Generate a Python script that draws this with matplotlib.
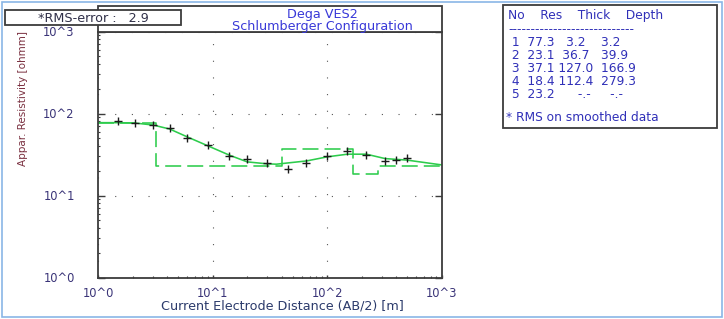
import matplotlib
matplotlib.use("Agg")
import matplotlib.pyplot as plt
import numpy as np
from matplotlib.patches import Rectangle
from matplotlib.ticker import FixedLocator, FixedFormatter, LogLocator, NullFormatter

plt.rcParams["font.family"] = ["DejaVu Sans"]

W, H = 724, 319

# Measured apparent resistivity (crosses)
ab_obs = [1.5, 2.1, 3.0, 4.2, 6.0, 9.0, 14, 20, 30, 45, 65, 100, 150, 220, 320, 400, 500]
rho_obs = [81.1, 76.0, 71.8, 66.1, 50.8, 41.0, 30.1, 27.9, 25.0, 21.1, 25.0, 30.4, 34.7, 31.3, 26.2, 27.2, 28.5]

# Smoothed model curve (solid green)
ab_fit = [1.0, 1.5, 2.1, 3.0, 4.2, 6.0, 9.0, 14, 20, 30, 36, 66, 100, 150, 220, 320, 500, 1000]
rho_fit = [77.3, 77.3, 76.5, 72.4, 64.7, 51.8, 40.5, 31.0, 25.7, 24.3, 24.1, 26.4, 29.6, 31.9, 31.9, 28.2, 27.0, 23.6]

# Layer model (dashed green steps and the table)
layer_no = [1, 2, 3, 4, 5]
layer_res = [77.3, 23.1, 37.1, 18.4, 23.2]
layer_thick = [3.2, 36.7, 127.0, 112.4]
layer_depth = [3.2, 39.9, 166.9, 279.3]

rms_error = 2.9
tick_vals = [1, 10, 100, 1000]
tick_labels = ["10^0", "10^1", "10^2", "10^3"]


# pixel helpers (origin top-left)
def fx(px):
    return px / W


def fy(py):
    return 1 - py / H


green = "#2dcc4c"
frame = "#3c3c3c"
blue = "#3838d8"

fig = plt.figure(figsize=(W / 100, H / 100), dpi=100)

# plot area
ax_l, ax_r, ax_t, ax_b = 98.3, 441.7, 31.5, 277.5
ax = fig.add_axes([fx(ax_l), fy(ax_b), fx(ax_r - ax_l), (ax_b - ax_t) / H])
ax.set_xscale("log")
ax.set_yscale("log")
ax.set_xlim(1, 1000)
ax.set_ylim(1, 1000)

# layer model as steps
edges = [1] + layer_depth + [1000]
step_x = np.repeat(edges, 2)[1:-1]
step_y = np.repeat(layer_res, 2)
ax.plot(step_x, step_y, color=green, lw=1.15, dashes=(10, 3.8))

# smoothed curve and data
ax.plot(ab_fit, rho_fit, color=green, lw=1.15)
ax.plot(ab_obs, rho_obs, "+", color="#1a1a1a", ms=6, mew=1.0)

# grid only at the decades
ax.grid(which="major", linestyle=(0, (1, 14)), color="#555555", lw=0.8)

ax.xaxis.set_major_locator(FixedLocator(tick_vals))
ax.xaxis.set_major_formatter(FixedFormatter(tick_labels))
ax.yaxis.set_major_locator(FixedLocator(tick_vals))
ax.yaxis.set_major_formatter(FixedFormatter(tick_labels))
ax.xaxis.set_minor_locator(LogLocator(base=10, subs=np.arange(2, 10)))
ax.yaxis.set_minor_locator(LogLocator(base=10, subs=np.arange(2, 10)))
ax.xaxis.set_minor_formatter(NullFormatter())
ax.yaxis.set_minor_formatter(NullFormatter())

tick_col = "#3a3478"
ax.tick_params(axis="y", which="major", direction="in", length=5, width=1.0,
               left=True, right=True, color=frame, pad=17, labelsize=8.3, labelcolor=tick_col)
ax.tick_params(axis="y", which="minor", direction="in", length=1.5, width=0.8,
               left=True, right=False, color=frame)
ax.tick_params(axis="x", which="major", direction="in", length=2.5, width=1.0,
               bottom=True, top=False, color=frame, pad=7, labelsize=8.3, labelcolor=tick_col)
ax.tick_params(axis="x", which="minor", direction="in", length=1.5, width=0.8,
               bottom=True, top=False, color=frame)
for sp in ax.spines.values():
    sp.set_color(frame)
    sp.set_linewidth(1.3)

# axis labels
fig.text(fx(282), fy(305.7), "Current Electrode Distance (AB/2) [m]",
         ha="center", va="center", fontsize=9.2, color="#2b3a6b")
fig.text(fx(23), fy(98), "Appar. Resistivity [ohmm]", rotation=90,
         ha="center", va="center", fontsize=7.5, color="#7a3040")

# title box
fig.add_artist(Rectangle((fx(ax_l), fy(ax_t)), fx(ax_r - ax_l), (ax_t - 6) / H,
                         transform=fig.transFigure, facecolor="white",
                         edgecolor=frame, lw=1.3, zorder=1))
fig.text(fx(322.5), fy(14.3), "Dega VES2", ha="center", va="center",
         fontsize=9.2, color=blue, zorder=2)
fig.text(fx(322), fy(26.5), "Schlumberger Configuration", ha="center", va="center",
         fontsize=9.2, color=blue, zorder=2)

# RMS box
fig.add_artist(Rectangle((fx(5), fy(25)), fx(176), 15.3 / H,
                         transform=fig.transFigure, facecolor="white",
                         edgecolor=frame, lw=1.3, zorder=3))
fig.text(fx(38), fy(18.5), f"*RMS-error :   {rms_error}", ha="left", va="center",
         fontsize=9.2, color="#303048", zorder=4)

# layer table
fig.add_artist(Rectangle((fx(503), fy(128)), fx(214), 123 / H,
                         transform=fig.transFigure, facecolor="white",
                         edgecolor=frame, lw=1.3, zorder=3))
tcol = "#3030b8"
tfs = 8.8
fig.text(fx(508), fy(16), "No    Res    Thick    Depth", ha="left", va="center",
         fontsize=tfs, color=tcol, zorder=4)
fig.text(fx(508), fy(30), "-" * 28, ha="left", va="center",
         fontsize=tfs, color=tcol, zorder=4)
for i, n in enumerate(layer_no):
    if i < len(layer_thick):
        row = f"{n:2d} {layer_res[i]:5.1f} {layer_thick[i]:5.1f} {layer_depth[i]:6.1f}"
    else:
        row = f"{n:2d} {layer_res[i]:5.1f}      -.-     -.-"
    fig.text(fx(508), fy(42.5 + 13 * i), row, ha="left", va="center",
             fontsize=tfs, color=tcol, zorder=4)
fig.text(fx(506), fy(118), "* RMS on smoothed data", ha="left", va="center",
         fontsize=tfs, color=tcol, zorder=4)

# light blue outer frame
fig.add_artist(Rectangle((fx(1.5), fy(317)), fx(720.5), 315.5 / H,
                         transform=fig.transFigure, facecolor="none",
                         edgecolor="#8ab6e6", lw=1.2, zorder=5))

fig.savefig("out.png", dpi=100)
